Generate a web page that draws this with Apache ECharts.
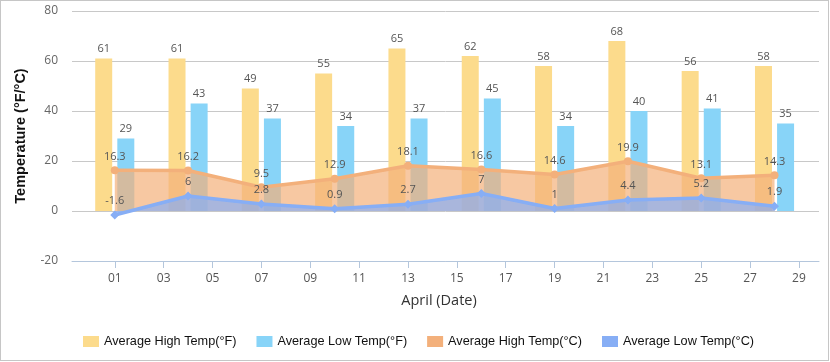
<!DOCTYPE html>
<html>
<head>
<meta charset="utf-8">
<script src="https://cdn.jsdelivr.net/npm/echarts@6/dist/echarts.min.js"></script>
<style>
html,body{margin:0;padding:0;background:#fff;}
#chart{position:absolute;left:0;top:0;width:830px;height:362px;}
#frame{position:absolute;left:0;top:0;width:829px;height:361px;box-sizing:border-box;border:1px solid #c6c6c6;pointer-events:none;}
</style>
</head>
<body>
<div id="chart"></div>
<div id="frame"></div>
<script>
// Data
const days = [1, 4, 7, 10, 13, 16, 19, 22, 25, 28];
const highF = [61, 61, 49, 55, 65, 62, 58, 68, 56, 58];
const lowF = [29, 43, 37, 34, 37, 45, 34, 40, 41, 35];
const highC = [16.3, 16.2, 9.5, 12.9, 18.1, 16.6, 14.6, 19.9, 13.1, 14.3];
const lowC = [-1.6, 6, 2.8, 0.9, 2.7, 7, 1, 4.4, 5.2, 1.9];
const xTickDays = [1, 3, 5, 7, 9, 11, 13, 15, 17, 19, 21, 23, 25, 27, 29];
const yTicks = [-20, 0, 20, 40, 60, 80];
const seriesNames = ['Average High Temp(°F)', 'Average Low Temp(°F)', 'Average High Temp(°C)', 'Average Low Temp(°C)'];

const pairs = arr => days.map((d, i) => [d, arr[i]]);
const numFont = '"Open Sans", sans-serif';
const valueLabel = { show: true, position: 'top', color: '#555', fontSize: 11, fontFamily: numFont, distance: 4 };

const chart = echarts.init(document.getElementById('chart'), null, { renderer: 'canvas' });
chart.setOption({
  animation: false,
  color: ['#fcdb8c', '#88d4f8', '#f3b07b', '#87aef5'],
  grid: { left: 72, right: 11, top: 11, bottom: 101 },
  legend: {
    left: 78, top: 330, icon: 'rect', itemWidth: 16, itemHeight: 11, itemGap: 20,
    textStyle: { fontFamily: '"Liberation Sans", Arial, sans-serif', fontSize: 12.7, color: '#111' },
    data: seriesNames
  },
  xAxis: {
    type: 'value', min: -0.75, max: 29.82,
    name: 'April (Date)', nameLocation: 'middle', nameGap: 32,
    nameTextStyle: { fontFamily: numFont, fontSize: 14.5, color: '#333', padding: [0, 13, 0, 0] },
    axisLine: { onZero: false, lineStyle: { color: '#b4c6dc' } },
    axisTick: { show: true, length: 7, customValues: xTickDays, lineStyle: { color: '#b4c6dc' } },
    axisLabel: {
      customValues: xTickDays, color: '#555', fontSize: 12, fontFamily: numFont, margin: 12,
      formatter: v => String(Math.round(v)).padStart(2, '0')
    },
    splitLine: { show: false }
  },
  yAxis: {
    type: 'value', min: yTicks[0], max: yTicks[yTicks.length - 1], interval: 20,
    name: 'Temperature (°F/°C)', nameLocation: 'middle', nameGap: 44, nameRotate: 90,
    nameTextStyle: { fontFamily: '"Liberation Sans", Arial, sans-serif', fontSize: 14.5, fontWeight: 'bold', color: '#111' },
    axisLine: { show: false }, axisTick: { show: false },
    axisLabel: { color: '#666', fontSize: 12, fontFamily: numFont, margin: 14 },
    splitLine: { lineStyle: { color: '#c8c8c8' } }
  },
  series: [
    { name: seriesNames[0], type: 'bar', data: pairs(highF), barWidth: 17, barGap: '30%', label: valueLabel },
    { name: seriesNames[1], type: 'bar', data: pairs(lowF), barWidth: 17, barGap: '30%', label: valueLabel },
    { name: seriesNames[2], type: 'line', data: pairs(highC), symbol: 'circle', symbolSize: 8,
      lineStyle: { width: 3.5 }, areaStyle: { opacity: 0.7 }, label: valueLabel, z: 3 },
    { name: seriesNames[3], type: 'line', data: pairs(lowC), symbol: 'diamond', symbolSize: 9,
      lineStyle: { width: 3.5 }, areaStyle: { opacity: 0.7 }, label: valueLabel, z: 4 }
  ]
});
</script>
</body>
</html>
